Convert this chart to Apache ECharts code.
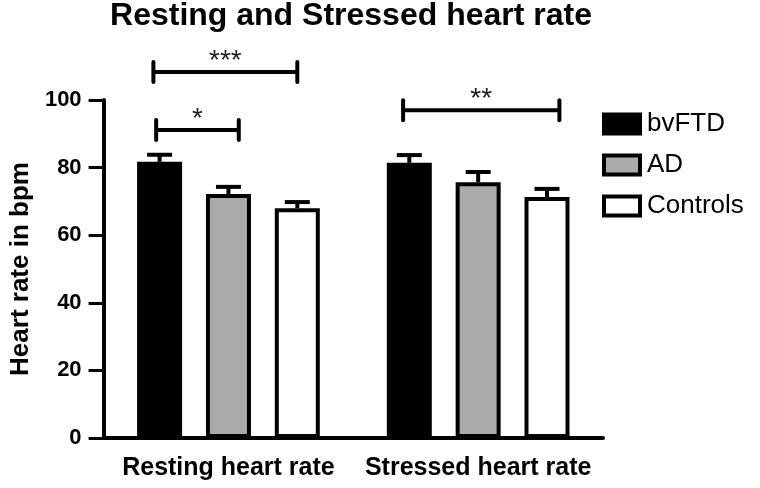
<!DOCTYPE html>
<html>
<head>
<meta charset="utf-8">
<script src="https://cdn.jsdelivr.net/npm/echarts@6/dist/echarts.min.js"></script>
<style>html,body{margin:0;padding:0;background:#fff}#c{width:760px;height:488px}</style>
</head>
<body>
<div id="c"></div>
<script>
const categories = ['Resting heart rate', 'Stressed heart rate'];
const groups = ['bvFTD', 'AD', 'Controls'];
const bvFTD = [81.7, 81.4];
const AD = [72.2, 75.7];
const Controls = [68.0, 71.3];
const bvFTDErr = [2.1, 2.3];
const ADErr = [2.1, 3.0];
const ControlsErr = [1.8, 2.4];
const yTicks = [0, 20, 40, 60, 80, 100];
// brackets: [categoryIndex, fromSlot, toSlot, yValue, label]
const brackets = [
  [0, -1.09, 1.0, 108.3, '***'],
  [0, -1.05, 0.15, 91.1, '*'],
  [1, -1.09, 1.18, 97.0, '**']
];

const fills = ['#000000', '#aaaaaa', '#ffffff'];
const values = [bvFTD, AD, Controls];
const errs = [bvFTDErr, ADErr, ControlsErr];
const BAR_W = 45, BAR_GAP = 0.53;
const SLOT = BAR_W * (1 + BAR_GAP);
const FONT = 'Liberation Sans, Arial, sans-serif';

const chart = echarts.init(document.getElementById('c'));
const series = [];
groups.forEach((g, i) => {
  series.push({
    name: g, type: 'bar', data: values[i], barWidth: BAR_W, barGap: (BAR_GAP * 100) + '%',
    itemStyle: { color: fills[i], borderColor: '#000', borderWidth: 4 },
    z: 2
  });
});
groups.forEach((g, i) => {
  series.push({
    type: 'custom', z: 3, silent: true,
    data: values[i].map((v, k) => [k, v, errs[i][k]]),
    renderItem: function (params, api) {
      const base = api.coord([api.value(0), api.value(1)]);
      const top = api.coord([api.value(0), api.value(1) + api.value(2)]);
      const x = base[0] + (i - 1) * SLOT;
      return { type: 'group', children: [
        { type: 'line', shape: { x1: x, y1: base[1], x2: x, y2: top[1] }, style: { stroke: '#000', lineWidth: 4 } },
        { type: 'line', shape: { x1: x - 12.5, y1: top[1], x2: x + 12.5, y2: top[1] }, style: { stroke: '#000', lineWidth: 4 } }
      ]};
    }
  });
});
series.push({
  type: 'custom', z: 4, silent: true, clip: false,
  data: brackets.map(b => [b[0], b[3], b[1], b[2]]),
  renderItem: function (params, api) {
    const p = api.coord([api.value(0), api.value(1)]);
    const x1 = p[0] + api.value(2) * SLOT, x2 = p[0] + api.value(3) * SLOT, y = p[1];
    const lbl = brackets[params.dataIndex][4];
    return { type: 'group', children: [
      { type: 'line', shape: { x1: x1, y1: y, x2: x2, y2: y }, style: { stroke: '#000', lineWidth: 4 } },
      { type: 'line', shape: { x1: x1, y1: y - 10, x2: x1, y2: y + 10 }, style: { stroke: '#000', lineWidth: 4, lineCap: 'round' } },
      { type: 'line', shape: { x1: x2, y1: y - 10, x2: x2, y2: y + 10 }, style: { stroke: '#000', lineWidth: 4, lineCap: 'round' } },
      { type: 'text', x: (x1 + x2) / 2, y: y + 3, style: { text: lbl, fill: '#222', font: '28px ' + FONT, align: 'center', verticalAlign: 'bottom' } }
    ]};
  }
});

chart.setOption({
  animation: false,
  backgroundColor: '#fff',
  title: { text: 'Resting and Stressed heart rate', left: 346, top: -5, textAlign: 'center',
    textStyle: { fontFamily: FONT, fontWeight: 'bold', fontSize: 32, color: '#000' } },
  legend: { orient: 'vertical', left: 597, top: 106, itemWidth: 36, itemHeight: 19, itemGap: 15,
    data: groups, icon: 'rect',
    itemStyle: { borderColor: '#000', borderWidth: 4 },
    textStyle: { fontFamily: FONT, fontSize: 26, color: '#000', padding: [0, 0, 0, 2] } },
  grid: { left: 93, right: 157, top: 100, bottom: 50 },
  xAxis: { type: 'category', data: categories,
    axisLine: { lineStyle: { color: '#000', width: 4 } },
    axisTick: { alignWithLabel: true, length: 12, lineStyle: { color: '#000', width: 3 } },
    axisLabel: { interval: 0, margin: 18, fontFamily: FONT, fontWeight: 'bold', fontSize: 25, color: '#000' } },
  yAxis: { type: 'value', min: 0, max: 100, interval: 20,
    name: 'Heart rate in bpm', nameLocation: 'middle', nameGap: 61,
    nameTextStyle: { fontFamily: FONT, fontWeight: 'bold', fontSize: 26, color: '#000' },
    axisLine: { show: true, lineStyle: { color: '#000', width: 4 } },
    axisTick: { show: true, length: 15, lineStyle: { color: '#000', width: 3 } },
    splitLine: { show: false },
    axisLabel: { margin: 22, fontFamily: FONT, fontWeight: 'bold', fontSize: 22, color: '#000',
      formatter: v => yTicks.includes(v) ? String(v) : '' } },
  series: series
});
</script>
</body>
</html>
